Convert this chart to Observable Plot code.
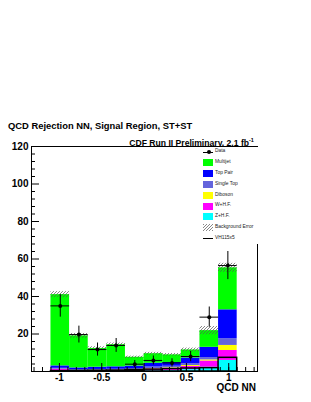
<!DOCTYPE html>
<html><head><meta charset="utf-8">
<script src="https://cdn.jsdelivr.net/npm/d3@7"></script>
<script src="https://cdn.jsdelivr.net/npm/@observablehq/plot@0.6"></script>
<style>
body{margin:0;background:#fff;}
#wrap{position:relative;width:311px;height:402px;overflow:hidden;font-family:"Liberation Sans",Arial,sans-serif;}
#wrap svg{position:absolute;left:0;top:0;}
.t{position:absolute;white-space:nowrap;line-height:1;font-weight:bold;color:#000;}
#legend{position:absolute;left:197px;top:147px;width:61px;height:97px;background:#fff;}
.le{position:absolute;left:0;width:61px;height:10px;}
.lt{position:absolute;left:18px;top:2.4px;font-size:4.9px;line-height:1;color:#222;white-space:nowrap;}
.lb{position:absolute;left:6px;top:1.5px;width:10px;height:7px;}
</style></head>
<body><div id="wrap"></div>
<script>
// ---- data ----
const binEdges = [-1.1, -0.88, -0.66, -0.44, -0.22, 0, 0.22, 0.44, 0.66, 0.88, 1.1];
const zhf       = [0.2, 0.1, 0.1, 0.1, 0.2, 0.4, 0.5, 1.0, 2.3, 5.9];
const whf       = [0.9, 0.4, 0.5, 0.6, 0.7, 1.0, 1.2, 1.7, 3.3, 5.3];
const diboson   = [0.1, 0.1, 0.1, 0.1, 0.1, 0.2, 0.3, 0.5, 0.6, 2.7];
const singleTop = [0.5, 0.3, 0.4, 0.4, 0.5, 0.8, 0.8, 1.0, 1.2, 3.6];
const topPair   = [1.3, 1.0, 1.2, 1.3, 1.4, 2.0, 2.0, 3.0, 5.5, 15.4];
const multijet  = [38.0, 17.1, 10.0, 11.8, 4.7, 5.1, 4.1, 4.3, 8.9, 22.4];
const bkgError  = [1.6, 1.3, 0.9, 0.9, 0.6, 0.7, 0.7, 1.0, 2.2, 2.4];
const dataVals  = [35, 19.7, 11.7, 13.9, 3.9, 5.9, 4.6, 8, 29, 56.5];
const dataErr   = [6, 4.5, 3.5, 3.7, 2, 2.4, 2.2, 2.8, 5.4, 7.5];
const signal    = [0.2, 0.3, 0.4, 0.5, 0.8, 1.0, 1.3, 1.6, 1.8, 7.3];
const xTickLabels = [-1, -0.5, 0, 0.5, 1];
const xMinorTicks = [-1.3,-1.2,-1.1,-1,-0.9,-0.8,-0.7,-0.6,-0.5,-0.4,-0.3,-0.2,-0.1,0,0.1,0.2,0.3,0.4,0.5,0.6,0.7,0.8,0.9,1,1.1,1.2,1.3];
const yTickLabels = [20, 40, 60, 80, 100, 120];
const yMajorTicks = [0, 20, 40, 60, 80, 100, 120];
const yMinorTicks = [4,8,12,16,24,28,32,36,44,48,52,56,64,68,72,76,84,88,92,96,104,108,112,116];
const seriesNames = ["Z+H.F.", "W+H.F.", "Diboson", "Single Top", "Top Pair", "Multijet"];
const seriesColors = ["#00ffff", "#ff00ff", "#ffff00", "#6464dc", "#0000ff", "#00ff00"];
const legendLabels = ["Data", "Multijet", "Top Pair", "Single Top", "Diboson", "W+H.F.", "Z+H.F.", "Background Error", "VH115x5"];

// ---- layout ----
const W = 311, H = 402, mL = 31, mR = 54, mT = 146, mB = 31;
const frameW = W - mL - mR, frameH = H - mT - mB;

const series = [zhf, whf, diboson, singleTop, topPair, multijet];
const idx = d3.range(binEdges.length - 1);
const lo = i => binEdges[i], hi = i => binEdges[i + 1];
const stackRows = [];
const totals = idx.map(() => 0);
series.forEach((s, k) => {
  idx.forEach(i => {
    stackRows.push({x1: lo(i), x2: hi(i), y1: totals[i], y2: totals[i] + s[i], c: seriesColors[k]});
    totals[i] += s[i];
  });
});

const plot = Plot.plot({
  width: W, height: H,
  marginLeft: mL, marginRight: mR, marginTop: mT, marginBottom: mB,
  x: {domain: [-1.33, 1.34]},
  y: {domain: [0, 120]},
  style: {fontFamily: "'Liberation Sans', Arial, sans-serif", fontWeight: "bold", background: "transparent"},
  marks: [
    Plot.rect(stackRows, {x1: "x1", x2: "x2", y1: "y1", y2: "y2", fill: "c"}),
    Plot.rect(idx, {x1: lo, x2: hi, y1: i => totals[i] - bkgError[i], y2: i => totals[i] + bkgError[i], fill: "url(#hatch)"}),
    Plot.rect(idx, {x1: lo, x2: hi, y1: 0, y2: i => signal[i], fill: "none", stroke: "#000", strokeWidth: 1.5}),
    Plot.ruleX(idx, {x: i => (lo(i) + hi(i)) / 2, y1: i => dataVals[i] - dataErr[i], y2: i => dataVals[i] + dataErr[i], stroke: "#000", strokeWidth: 1}),
    Plot.ruleY(idx, {y: i => dataVals[i], x1: lo, x2: hi, stroke: "#000", strokeWidth: 1}),
    Plot.dot(idx, {x: i => (lo(i) + hi(i)) / 2, y: i => dataVals[i], r: 2, fill: "#000", stroke: "none"}),
    Plot.frame({stroke: "#000", strokeWidth: 1}),
    Plot.tickY(yMajorTicks, {y: d => d, insetRight: frameW - 8, stroke: "#000"}),
    Plot.tickY(yMinorTicks, {y: d => d, insetRight: frameW - 4, stroke: "#000"}),
    Plot.tickX(xTickLabels, {x: d => d, insetTop: frameH - 8, stroke: "#000"}),
    Plot.tickX(xMinorTicks, {x: d => d, insetTop: frameH - 4, stroke: "#000"}),
    Plot.axisY({ticks: yTickLabels, tickSize: 0, tickPadding: 3, fontSize: 10, label: null, tickFormat: d => String(d)}),
    Plot.axisX({ticks: xTickLabels, tickSize: 0, tickPadding: 2, fontSize: 10, label: null, tickFormat: d => String(d)})
  ]
});
d3.select(plot).insert("defs", ":first-child").html(
  '<pattern id="hatch" patternUnits="userSpaceOnUse" width="3" height="3">' +
  '<path d="M-1,1 l2,-2 M0,3 l3,-3 M2,4 l2,-2" stroke="#555" stroke-width="0.7"/></pattern>');

const wrap = document.getElementById("wrap");
wrap.appendChild(plot);

function addText(txt, left, top, size, extra) {
  const d = document.createElement("div");
  d.className = "t";
  d.style.left = left + "px"; d.style.top = top + "px"; d.style.fontSize = size + "px";
  if (extra) Object.assign(d.style, extra);
  d.innerHTML = txt;
  wrap.appendChild(d);
  return d;
}
addText("QCD Rejection NN, Signal Region, ST+ST", 8, 121, 9.4);
addText('CDF Run II Preliminary, 2.1 fb<span style="font-size:5.5px;position:relative;top:-4px;">-1</span>', 129.3, 138.6, 8.6);
addText("QCD NN", 216.5, 383.2, 10);

// legend
const leg = document.createElement("div");
leg.id = "legend";
wrap.appendChild(leg);
const colorOf = name => seriesColors[seriesNames.indexOf(name)];
legendLabels.forEach((lab, j) => {
  const e = document.createElement("div");
  e.className = "le";
  e.style.top = (0 + j * 10.8) + "px";
  let sym = "";
  if (lab === "Data") {
    sym = '<div style="position:absolute;left:6px;top:4.5px;width:10px;height:1px;background:#000"></div>' +
          '<div style="position:absolute;left:9.5px;top:3px;width:4px;height:4px;border-radius:2px;background:#000"></div>';
  } else if (lab === "Background Error") {
    sym = '<div class="lb" style="background:repeating-linear-gradient(-45deg,#888 0 0.8px,#fff 0.8px 2.2px)"></div>';
  } else if (lab === "VH115x5") {
    sym = '<div style="position:absolute;left:6px;top:4.2px;width:10px;height:1.6px;background:#000"></div>';
  } else {
    sym = '<div class="lb" style="background:' + colorOf(lab) + '"></div>';
  }
  e.innerHTML = sym + '<div class="lt">' + lab + '</div>';
  leg.appendChild(e);
});
</script>
</body></html>
